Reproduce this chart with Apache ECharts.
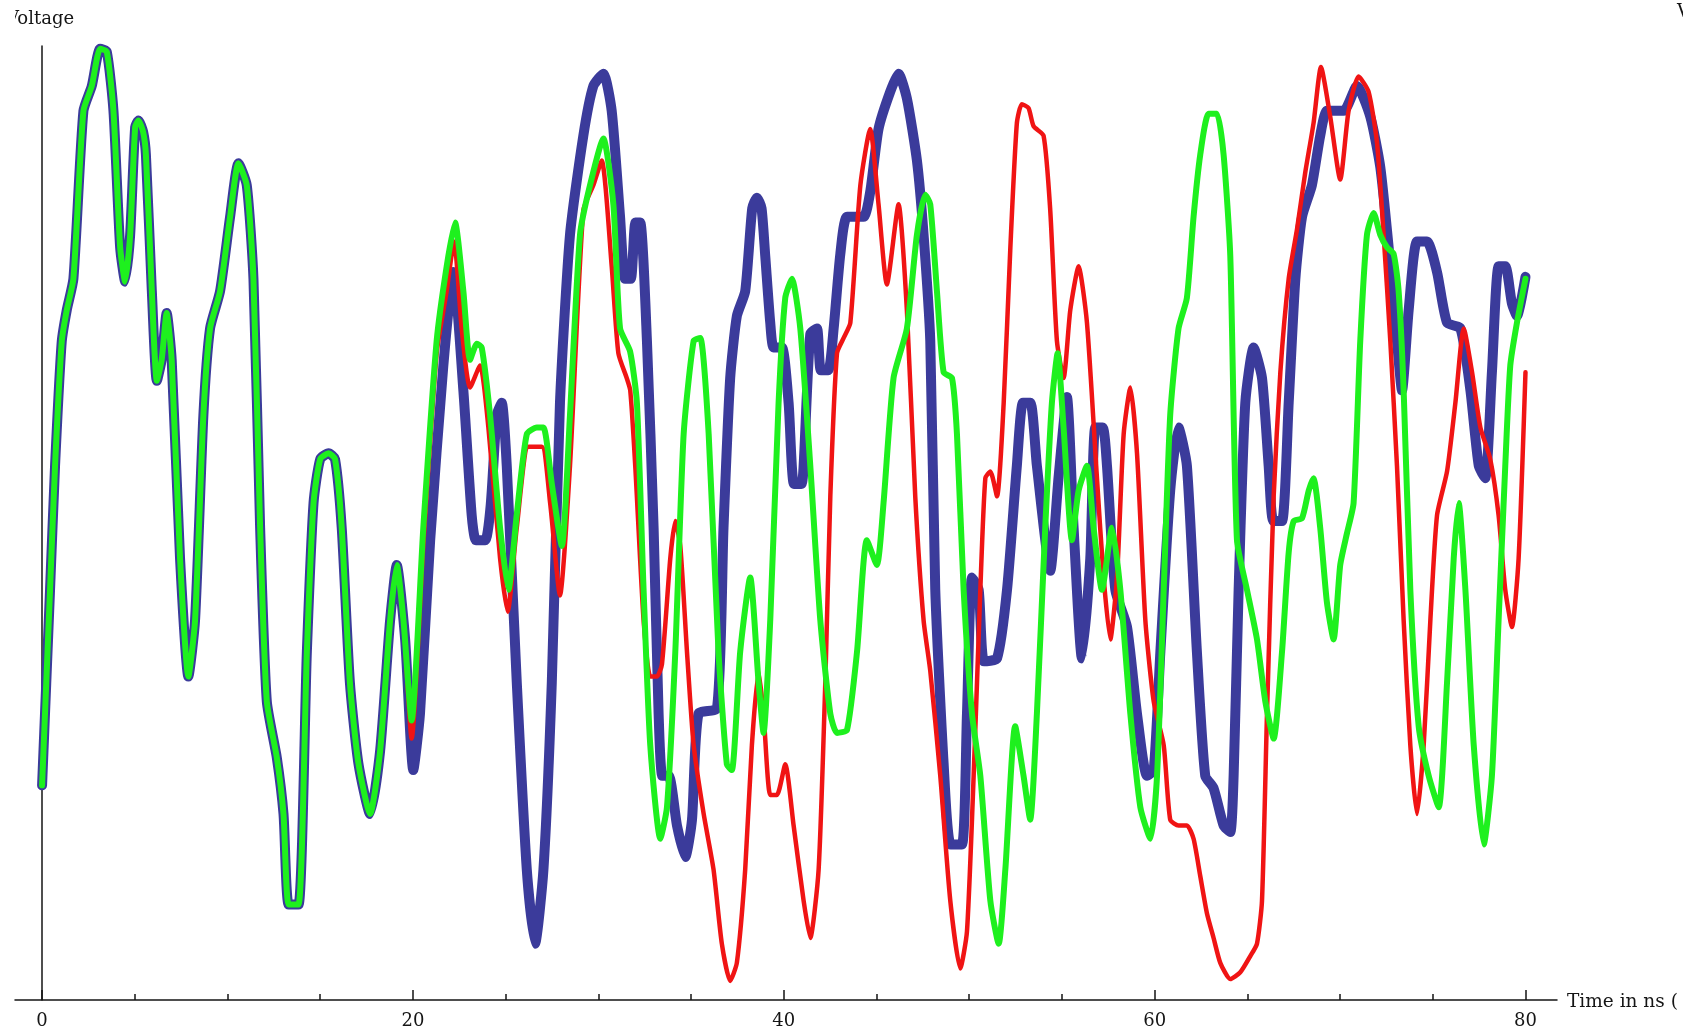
<!DOCTYPE html>
<html>
<head>
<meta charset="utf-8">
<script src="https://cdn.jsdelivr.net/npm/echarts@6/dist/echarts.min.js"></script>
<style>
  html, body { margin: 0; padding: 0; background: #ffffff; }
  #chart { width: 1683px; height: 1031px; }
</style>
</head>
<body>
<div id="chart"></div>
<script>
// Time axis (ns): labelled ticks and the small in-between ticks
const timeTicks = [0, 20, 40, 60, 80];
const minorTicks = [5, 10, 15, 25, 30, 35, 45, 50, 55, 65, 70, 75];

// First ~19 ns: the three traces run on top of each other  [time ns, voltage]
const sharedStart = [
  [0, 22.5], [0.43, 43], [0.7, 56], [1.06, 69], [1.33, 72.3], [1.69, 75.6], [2.23, 93.2],
  [2.68, 95.8], [3.13, 99.7], [3.49, 99.4], [3.85, 93.2], [4.21, 78.9], [4.48, 75.3],
  [4.75, 80.2], [5.02, 91.5], [5.2, 92.2], [5.45, 91], [5.6, 88.6], [5.92, 74.3],
  [6.19, 64.9], [6.45, 67.1], [6.72, 72], [6.99, 67.1], [7.44, 46.3], [7.89, 33.9],
  [8.25, 39.8], [8.7, 61.3], [9.06, 70.4], [9.6, 74.3], [10.14, 82.1], [10.59, 87.7],
  [11.04, 85.4], [11.4, 75.6], [11.76, 49.5], [12.12, 31.3], [12.66, 25.4], [13.02, 19.5],
  [13.3, 10], [13.83, 10], [14.28, 36.5], [14.64, 52.1], [15.0, 56.7], [15.45, 57.3],
  [15.8, 56.7], [16.16, 49.5], [16.6, 33.3], [17.06, 24.8], [17.69, 19.5], [18.23, 26.1],
  [18.77, 39.8], [19.13, 45.6]
];

const blueRest = [
  [19.58, 37.8], [20.02, 24.1], [20.38, 30], [20.93, 48.2], [21.64, 66.5], [22.18, 76.3],
  [22.72, 63.9], [23.17, 50.8], [23.4, 48.2], [23.9, 48.2], [24.2, 52], [24.52, 61.3],
  [24.79, 62.6], [25.06, 56], [25.6, 33.3], [26.14, 13.7], [26.59, 5.9], [27.04, 13.7],
  [27.49, 33.3], [27.93, 62.6], [28.47, 80.2], [29.19, 90.6], [29.73, 95.8], [30.27, 97.1],
  [30.72, 93.2], [31.17, 82.1], [31.44, 75.6], [31.75, 75.6], [32.0, 81.5], [32.26, 81.5],
  [32.62, 69.1], [32.98, 49.5], [33.25, 30], [33.45, 23.5], [33.8, 23.5], [34.24, 18.3],
  [34.69, 15], [35.05, 18.9], [35.4, 30], [36.4, 30.6], [36.75, 49.5], [37.11, 65.2],
  [37.47, 71.7], [37.92, 74.3], [38.3, 83], [38.55, 84.1], [38.8, 83], [39.0, 78],
  [39.27, 71], [39.45, 68.4], [39.9, 68.4], [40.26, 62.6], [40.55, 54.1], [40.95, 54.1],
  [41.07, 56], [41.43, 69.8], [41.79, 70.4], [42.0, 66], [42.4, 66], [42.69, 70.4],
  [43.05, 78.2], [43.41, 82.1], [44.3, 82.1], [44.66, 84.7], [45.11, 91.3], [45.74, 95.2],
  [46.19, 97.1], [46.64, 94.5], [47.18, 88], [47.54, 80.2], [47.9, 69.1], [48.17, 43],
  [48.62, 24.8], [49.0, 16.3], [49.61, 16.3], [49.88, 30], [50.15, 44.3], [50.51, 43],
  [50.8, 35.5], [51.5, 35.8], [52.04, 43], [52.57, 56], [52.9, 62.6], [53.3, 62.6],
  [53.65, 56], [54.37, 45], [54.82, 54.8], [55.27, 63.2], [55.63, 49.5], [56.08, 35.8],
  [56.53, 46.3], [56.8, 60], [57.2, 60], [57.43, 56], [57.88, 43], [58.51, 39.1],
  [59.05, 30], [59.59, 23.5], [59.95, 24.1], [60.31, 36.5], [60.84, 53.4], [61.29, 60],
  [61.74, 56], [62.28, 36.5], [62.73, 23.5], [63.18, 22.2], [63.72, 18.3], [64.08, 17.6],
  [64.26, 23.5], [64.53, 43], [64.89, 62.6], [65.34, 68.4], [65.79, 65.2], [66.15, 56],
  [66.4, 50.2], [66.87, 50.2], [67.23, 62.6], [67.59, 75.6], [67.95, 82.1], [68.48, 85.4],
  [68.93, 90.6], [69.3, 93.2], [70.19, 93.2], [70.91, 95.8], [71.63, 92.6], [72.17, 87.3],
  [72.62, 78.9], [73.07, 69.1], [73.34, 63.9], [73.7, 72.3], [74.15, 79.5], [74.69, 79.5],
  [75.23, 76.3], [75.77, 71], [76.49, 70.4], [77.03, 63.9], [77.48, 56], [77.83, 54.7],
  [78.19, 65.8], [78.55, 76.9], [78.91, 76.9], [79.27, 73], [79.54, 71.7], [80, 75.8]
];

const redRest = [
  [19.49, 39.8], [19.93, 27.4], [20.56, 47.6], [21.28, 67.8], [21.82, 74.3], [22.22, 79.5],
  [22.63, 70.4], [23.08, 64.2], [23.62, 66.5], [24.07, 60], [24.7, 46.3], [25.11, 40.7],
  [25.6, 49.5], [26.23, 58], [26.95, 58], [27.4, 52.1], [27.93, 42.4], [28.47, 56],
  [29.19, 82.8], [29.73, 85.4], [30.18, 88], [30.72, 76.9], [31.08, 67.8], [31.53, 65.2],
  [31.72, 63.9], [31.99, 56], [32.44, 39.8], [32.8, 33.9], [33.15, 33.9], [33.43, 35.2],
  [33.88, 46.3], [34.15, 50.2], [34.42, 47.6], [34.78, 36.5], [35.14, 26.7], [35.68, 19.5],
  [36.21, 13.7], [36.66, 5.9], [37.11, 2], [37.47, 3.9], [37.92, 13.7], [38.28, 26.7],
  [38.64, 34.5], [38.91, 30], [39.27, 21.5], [39.63, 21.5], [40.08, 24.7], [40.53, 18.3],
  [41.07, 10.4], [41.43, 6.5], [41.88, 13.7], [42.24, 33.3], [42.51, 52.8], [42.87, 67.8],
  [43.23, 69.4], [43.59, 71], [44.13, 85.4], [44.66, 91.3], [45.11, 83.4], [45.56, 75],
  [46.19, 83.4], [46.64, 72.3], [47.09, 52.8], [47.54, 39.8], [47.9, 34.5], [48.44, 23.5],
  [48.98, 10.4], [49.52, 3.3], [49.88, 7.2], [50.24, 23.5], [50.6, 43], [50.87, 54.7],
  [51.14, 55.4], [51.5, 52.8], [51.86, 62.6], [52.22, 78.9], [52.57, 91.9], [52.84, 93.9],
  [53.2, 93.5], [53.47, 91.6], [54.01, 90.6], [54.37, 82.8], [54.73, 69.1], [55.09, 65.2],
  [55.45, 72.3], [55.9, 76.9], [56.35, 71], [56.89, 54.7], [57.25, 44.3], [57.61, 37.8],
  [57.97, 44.3], [58.33, 59.3], [58.69, 64.2], [59.05, 57.3], [59.5, 39.8], [59.95, 31.3],
  [60.49, 26.7], [60.84, 18.9], [61.29, 18.3], [61.74, 18.3], [62.1, 16.9], [62.46, 13],
  [62.82, 9.1], [63.18, 6.5], [63.54, 3.9], [64.08, 2.2], [64.62, 2.9], [65.16, 4.6],
  [65.52, 5.9], [65.79, 10.4], [66.06, 30], [66.42, 52.8], [66.78, 65.8], [67.23, 75.6],
  [67.68, 80.8], [68.12, 86.7], [68.57, 91.9], [68.97, 97.8], [69.47, 92.6], [70.01, 86],
  [70.46, 93.2], [71.0, 96.8], [71.54, 95.2], [71.99, 89.9], [72.35, 80.2], [72.71, 69.1],
  [73.07, 56], [73.43, 39.8], [73.79, 26.7], [74.15, 19.5], [74.51, 26.7], [74.87, 39.8],
  [75.23, 50.8], [75.77, 55.4], [76.22, 62.6], [76.67, 70.4], [77.12, 65.8], [77.57, 60],
  [78.1, 56.7], [78.55, 50.8], [78.91, 43], [79.27, 39.1], [79.63, 46.3], [80, 65.8]
];

const greenRest = [
  [19.49, 39.8], [19.93, 29.3], [20.56, 49.5], [21.28, 69.1], [21.82, 76.9], [22.27, 81.5],
  [22.72, 74.3], [23.08, 67.1], [23.45, 68.8], [23.71, 68.4], [24.16, 61.3], [24.7, 49.5],
  [25.15, 43], [25.6, 50.9], [26.14, 59.3], [26.68, 60], [27.04, 60], [27.49, 54.1],
  [28.03, 47.6], [28.47, 61.3], [29.01, 80.2], [29.55, 85.4], [30.27, 90.3], [30.81, 83.4],
  [31.17, 70.4], [31.71, 68], [32.08, 62.6], [32.44, 43], [32.8, 26.7], [33.34, 16.9],
  [33.7, 20.2], [34.15, 36.5], [34.6, 59.3], [35.14, 69.1], [35.5, 69.4], [35.95, 59.3],
  [36.48, 36.5], [36.93, 24.7], [37.2, 24.1], [37.65, 36.5], [38.19, 44.3], [38.64, 33.3],
  [38.91, 28], [39.27, 39.8], [39.72, 62.6], [40.08, 73.6], [40.44, 75.6], [40.89, 70.4],
  [41.43, 56], [41.97, 39.8], [42.51, 30], [42.87, 28], [43.41, 28.3], [43.95, 36.5],
  [44.48, 48.2], [45.02, 45.6], [45.38, 52.1], [45.92, 65.2], [46.64, 70.4], [47.18, 80.2],
  [47.63, 84.4], [47.9, 83.4], [48.26, 74.3], [48.62, 65.8], [49.07, 65.2], [49.34, 59.3],
  [49.7, 43], [50.15, 30], [50.6, 23.5], [51.14, 10.4], [51.59, 5.9], [51.95, 13.7],
  [52.48, 28.7], [52.93, 23.5], [53.29, 18.9], [53.65, 30], [54.1, 49.5], [54.46, 62.6],
  [54.77, 67.8], [55.09, 60], [55.54, 48.2], [55.9, 53.4], [56.35, 56], [56.71, 49.5],
  [57.16, 43], [57.7, 49.5], [58.15, 43], [58.69, 30], [59.23, 20.2], [59.77, 16.9],
  [60.13, 23.5], [60.49, 43], [60.84, 61.3], [61.29, 70.4], [61.74, 73.6], [62.1, 82.1],
  [62.46, 88.6], [62.91, 92.9], [63.36, 92.9], [63.72, 88.6], [64.08, 78], [64.44, 48.2],
  [64.98, 43], [65.52, 37.8], [65.97, 31.3], [66.42, 27.4], [66.87, 36.5], [67.23, 46.9],
  [67.5, 50.2], [67.95, 50.5], [68.31, 53.4], [68.57, 54.7], [68.93, 49.5], [69.29, 41.7],
  [69.65, 37.8], [70.01, 45.6], [70.37, 48.9], [70.73, 52.1], [71.09, 69.1], [71.45, 80.2],
  [71.81, 82.5], [72.17, 80.2], [72.53, 78.9], [72.89, 78.2], [73.16, 74.3], [73.43, 63.9],
  [73.79, 43], [74.24, 28.7], [74.78, 23.5], [75.32, 20.2], [75.77, 33.3], [76.13, 46.3],
  [76.4, 52.1], [76.76, 43], [77.21, 26.7], [77.75, 16.3], [78.19, 23.5], [78.55, 39.8],
  [78.91, 56], [79.18, 66.5], [79.54, 71], [80, 75.6]
];

const serif = '"DejaVu Serif", "Liberation Serif", serif';
const ink = '#151515';

function trace(name, points, color, width, z) {
  return {
    name: name,
    type: 'line',
    data: points,
    showSymbol: false,
    symbol: 'none',
    smooth: 0.2,
    clip: false,
    z: z,
    lineStyle: { color: color, width: width, join: 'round', cap: 'round' }
  };
}

const chart = echarts.init(document.getElementById('chart'), null, { renderer: 'canvas' });
chart.setOption({
  animation: false,
  backgroundColor: '#ffffff',
  grid: { left: 15, right: 126, top: 46, bottom: 31 },
  xAxis: [
    {
      type: 'value', min: -1.46, max: 81.7, position: 'bottom',
      axisLine: { onZero: false, lineStyle: { color: ink, width: 1.5 } },
      axisTick: { show: true, inside: true, length: 10, customValues: timeTicks,
                  lineStyle: { color: ink, width: 1.5 } },
      axisLabel: { customValues: timeTicks, fontFamily: serif, fontSize: 18, color: ink,
                   margin: 21, verticalAlign: 'middle' },
      splitLine: { show: false }
    },
    {
      type: 'value', min: -1.46, max: 81.7, position: 'bottom',
      axisLine: { show: false, onZero: false },
      axisTick: { show: true, inside: true, length: 6, customValues: minorTicks,
                  lineStyle: { color: ink, width: 1.5 } },
      axisLabel: { show: false },
      splitLine: { show: false }
    }
  ],
  yAxis: {
    type: 'value', min: 0, max: 100,
    axisLine: { show: true, onZero: true, lineStyle: { color: ink, width: 1.5 } },
    axisTick: { show: false },
    axisLabel: { show: false },
    splitLine: { show: false }
  },
  series: [
    trace('blue', sharedStart.concat(blueRest), '#3b3b9b', 10, 2),
    trace('red', sharedStart.concat(redRest), '#f01414', 4.5, 3),
    trace('green', sharedStart.concat(greenRest), '#1ef01e', 6, 4)
  ],
  graphic: [
    { type: 'text', x: 6, y: 19, z: 10,
      style: { text: 'Voltage', font: '18px ' + serif, fill: ink, verticalAlign: 'middle' } },
    // the plot region is cut off at x = 15, which hides most of the V
    { type: 'rect', x: 0, y: 0, z: 20, shape: { width: 15, height: 40 },
      style: { fill: '#ffffff' } },
    { type: 'text', x: 1567, y: 1002, z: 10,
      style: { text: 'Time in ns (', font: '18.5px ' + serif, fill: ink, verticalAlign: 'middle' } },
    { type: 'text', x: 1677, y: 12, z: 10,
      style: { text: 'V', font: '18px ' + serif, fill: ink, verticalAlign: 'middle' } }
  ]
});
</script>
</body>
</html>
